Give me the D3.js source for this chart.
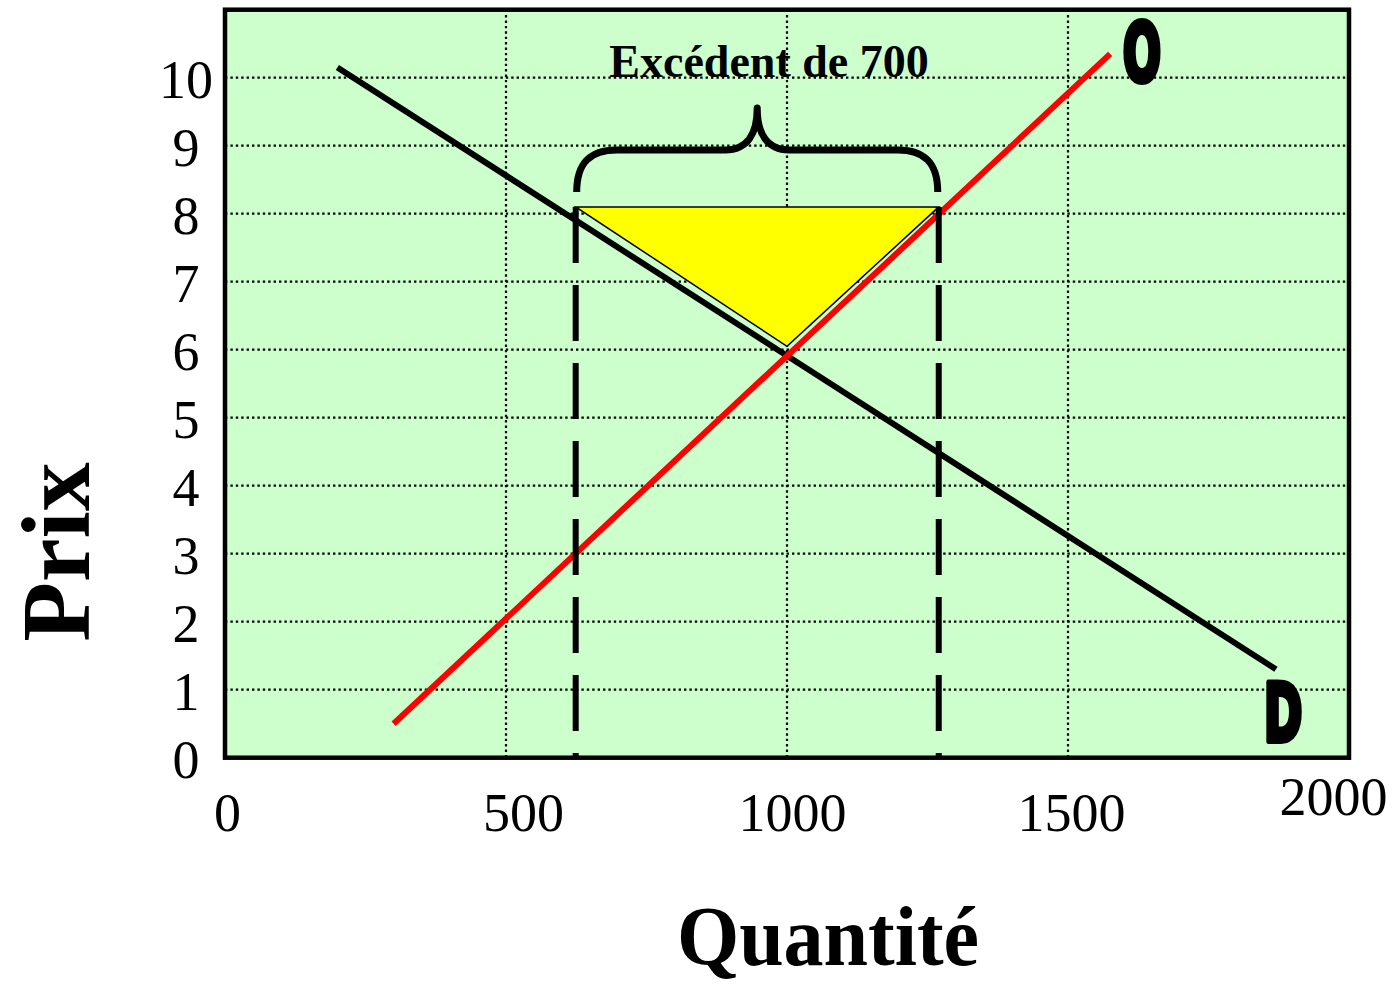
<!DOCTYPE html>
<html>
<head>
<meta charset="utf-8">
<script src="https://cdn.jsdelivr.net/npm/d3@7/dist/d3.min.js"></script>
<style>
  html, body { margin: 0; padding: 0; background: #ffffff; }
  svg { display: block; }
</style>
</head>
<body>
<svg id="chart" width="1398" height="984"></svg>
<script>
// Supply (O) and demand (D) lines, as [quantity, price] end points
const demandLine = [[200, 10.15], [1870, 1.3]];
const supplyLine = [[300, 0.5], [1575, 10.35]];

// Surplus at the floor price: quantity demanded vs quantity supplied
const floorPrice = 8.1;
const qDemanded = 624;
const qSupplied = 1270;
const surplusApex = [1000, 6.05];

const xTicks = [0, 500, 1000, 1500, 2000];
const yTicks = [0, 1, 2, 3, 4, 5, 6, 7, 8, 9, 10];
const xGrid = [500, 1000, 1500];
const yGrid = [1, 2, 3, 4, 5, 6, 7, 8, 9, 10];

const surplusLabel = "Excédent de 700";
const xTitle = "Quantité";
const yTitle = "Prix";
const supplyName = "O";
const demandName = "D";

const svg = d3.select("#chart");
const serif = "'Liberation Serif', 'Times New Roman', serif";

const plotL = 225, plotR = 1349, plotT = 9.7, plotB = 757.7;
const x = d3.scaleLinear().domain([0, 2000]).range([plotL, plotR]);
const y = d3.scaleLinear().domain([0, 11]).range([plotB, plotT]);

// plot background
svg.append("rect")
  .attr("x", plotL).attr("y", plotT)
  .attr("width", plotR - plotL).attr("height", plotB - plotT)
  .attr("fill", "#ccffcc");

// dotted grid
const grid = svg.append("g").attr("stroke", "#000").attr("stroke-width", 2.2)
  .attr("stroke-dasharray", "2.4,3");
grid.selectAll("line.h").data(yGrid).join("line")
  .attr("class", "h")
  .attr("x1", plotL).attr("x2", plotR)
  .attr("y1", d => y(d)).attr("y2", d => y(d));
grid.selectAll("line.v").data(xGrid).join("line")
  .attr("class", "v")
  .attr("y1", plotT).attr("y2", plotB)
  .attr("x1", d => x(d)).attr("x2", d => x(d));

const line = d3.line().x(d => x(d[0])).y(d => y(d[1]));

// demand
svg.append("path").datum(demandLine)
  .attr("d", line).attr("fill", "none")
  .attr("stroke", "#000").attr("stroke-width", 6);

// supply
svg.append("path").datum(supplyLine)
  .attr("d", line).attr("fill", "none")
  .attr("stroke", "#ff0000").attr("stroke-width", 6);

// surplus triangle
svg.append("path")
  .datum([[qDemanded, floorPrice], [qSupplied, floorPrice], surplusApex])
  .attr("d", d => line(d) + "Z")
  .attr("fill", "#ffff00").attr("stroke", "#000").attr("stroke-width", 1.5)
  .attr("stroke-linejoin", "miter");

// dashed drop lines
svg.selectAll("line.drop").data([qDemanded, qSupplied]).join("line")
  .attr("class", "drop")
  .attr("x1", d => x(d)).attr("x2", d => x(d))
  .attr("y1", y(floorPrice)).attr("y2", plotB)
  .attr("stroke", "#000").attr("stroke-width", 6)
  .attr("stroke-dasharray", "56,22");

// curly brace over the surplus
{
  const xl = x(qDemanded) + 1, xr = x(qSupplied) - 1, xm = (xl + xr) / 2;
  const yEnd = 192, yBar = 150, yPeak = 108;
  const p = d3.path();
  p.moveTo(xl, yEnd);
  p.bezierCurveTo(xl, yBar + 12, xl + 14, yBar, xl + 40, yBar);
  p.lineTo(xm - 32, yBar);
  p.bezierCurveTo(xm - 10, yBar, xm, yBar - 16, xm, yPeak);
  p.bezierCurveTo(xm, yBar - 16, xm + 10, yBar, xm + 32, yBar);
  p.lineTo(xr - 40, yBar);
  p.bezierCurveTo(xr - 14, yBar, xr, yBar + 12, xr, yEnd);
  svg.append("path").attr("d", p.toString())
    .attr("fill", "none").attr("stroke", "#000").attr("stroke-width", 7)
    .attr("stroke-linejoin", "round");
}

// plot frame
svg.append("rect")
  .attr("x", plotL).attr("y", plotT)
  .attr("width", plotR - plotL).attr("height", plotB - plotT)
  .attr("fill", "none").attr("stroke", "#000").attr("stroke-width", 4.5);

// y axis labels
const yAxis = svg.append("g")
  .attr("transform", `translate(${plotL},0)`)
  .call(d3.axisLeft(y).tickValues(yTicks).tickSize(0).tickFormat(d3.format("d")));
yAxis.select(".domain").remove();
yAxis.selectAll("text")
  .attr("x", 186 - plotL).attr("dy", "0.37em")
  .attr("text-anchor", "middle")
  .attr("fill", "#000")
  .style("font-family", serif).style("font-size", "54px");

// x axis labels
const xNudge = { 0: [2, 0], 500: [17, 0], 1000: [5, 0], 1500: [3, 0], 2000: [-16, -16] };
const xAxis = svg.append("g")
  .attr("transform", `translate(0,${plotB})`)
  .call(d3.axisBottom(x).tickValues(xTicks).tickSize(0).tickFormat(d3.format("d")));
xAxis.select(".domain").remove();
xAxis.selectAll("text")
  .attr("y", 0).attr("dy", 0)
  .attr("transform", d => `translate(${xNudge[d][0]},${73 + xNudge[d][1]})`)
  .attr("fill", "#000")
  .style("font-family", serif).style("font-size", "54px");

// surplus caption
svg.append("text")
  .attr("x", 769).attr("y", 77)
  .attr("text-anchor", "middle")
  .style("font-family", serif).style("font-weight", "bold").style("font-size", "46px")
  .text(surplusLabel);

// curve names
const nameStyle = sel => sel
  .attr("text-anchor", "middle")
  .style("font-family", "'DejaVu Sans Condensed', 'DejaVu Sans', sans-serif")
  .style("font-weight", "bold").style("font-size", "80px")
  .attr("stroke", "#000").attr("stroke-width", 6).attr("stroke-linejoin", "round")
  .attr("fill", "#000");
svg.append("text")
  .attr("transform", "translate(1142,81) scale(0.62,1)")
  .call(nameStyle).text(supplyName);
svg.append("text")
  .attr("transform", "translate(1283,741) scale(0.64,1)")
  .call(nameStyle).text(demandName);

// axis titles
svg.append("text")
  .attr("transform", "translate(89,552) rotate(-90)")
  .attr("text-anchor", "middle")
  .style("font-family", serif).style("font-weight", "bold").style("font-size", "98px")
  .text(yTitle);
svg.append("text")
  .attr("transform", "translate(828,965) scale(1,1.06)")
  .attr("text-anchor", "middle")
  .style("font-family", serif).style("font-weight", "bold").style("font-size", "80px")
  .text(xTitle);
</script>
</body>
</html>
